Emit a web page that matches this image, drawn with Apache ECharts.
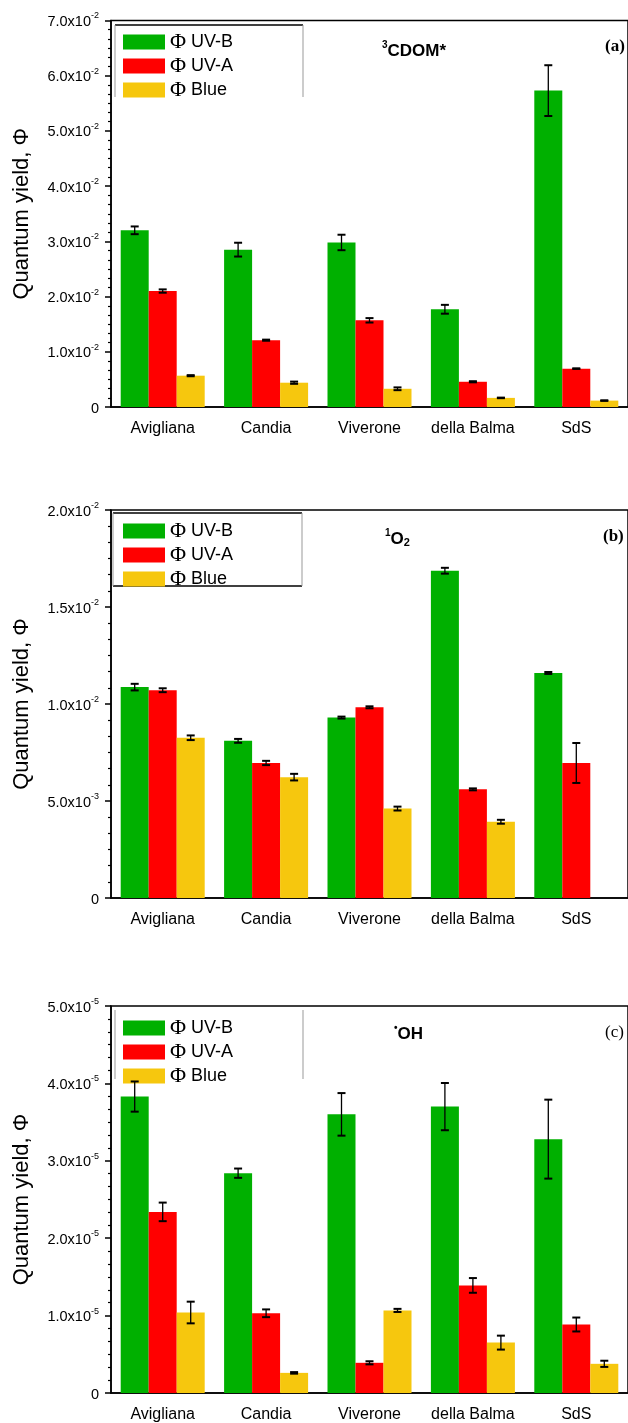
<!DOCTYPE html>
<html>
<head>
<meta charset="utf-8">
<script src="https://cdn.jsdelivr.net/npm/echarts@6/dist/echarts.min.js"></script>
<style>
  html, body { margin: 0; background: #fff; }
  #chart { width: 628px; height: 1423px; }
</style>
</head>
<body>
<div id="chart"></div>
<script>
  // sites on the x axis
  const categories = ['Avigliana', 'Candia', 'Viverone', 'della Balma', 'SdS']
  const seriesNames = ['UV-B', 'UV-A', 'Blue']

  // (a) 3CDOM*
  const cdomUVB = [0.0320, 0.0285, 0.0298, 0.0177, 0.0573]
  const cdomUVBErr = [0.0007, 0.00125, 0.0014, 0.0008, 0.0046]
  const cdomUVA = [0.0210, 0.0121, 0.0157, 0.00457, 0.00695]
  const cdomUVAErr = [0.0003, 0.0001, 0.0004, 0.0001, 0.00005]
  const cdomBlue = [0.00567, 0.0044, 0.0033, 0.00165, 0.00116]
  const cdomBlueErr = [0.0001, 0.0002, 0.00025, 0.00005, 0.00005]

  // (b) 1O2
  const o2UVB = [0.01087, 0.0081, 0.0093, 0.01687, 0.0116]
  const o2UVBErr = [0.00017, 0.0001, 0.00005, 0.00015, 0.00005]
  const o2UVA = [0.01071, 0.00696, 0.00983, 0.0056, 0.00696]
  const o2UVAErr = [0.0001, 0.00011, 0.00005, 0.00005, 0.00103]
  const o2Blue = [0.00826, 0.00623, 0.00461, 0.00393, null]
  const o2BlueErr = [0.00012, 0.00017, 0.0001, 0.0001, null]

  // (c) .OH
  const ohUVB = [3.83e-5, 2.84e-5, 3.60e-5, 3.70e-5, 3.28e-5]
  const ohUVBErr = [0.195e-5, 0.06e-5, 0.275e-5, 0.305e-5, 0.51e-5]
  const ohUVA = [2.34e-5, 1.03e-5, 0.39e-5, 1.39e-5, 0.885e-5]
  const ohUVAErr = [0.12e-5, 0.05e-5, 0.02e-5, 0.095e-5, 0.09e-5]
  const ohBlue = [1.04e-5, 0.26e-5, 1.067e-5, 0.651e-5, 0.377e-5]
  const ohBlueErr = [0.14e-5, 0.01e-5, 0.02e-5, 0.09e-5, 0.04e-5]

  // y tick labels (mantissa^exponent)
  const ticksA = ['0', '1.0x10^-2', '2.0x10^-2', '3.0x10^-2', '4.0x10^-2', '5.0x10^-2', '6.0x10^-2', '7.0x10^-2']
  const ticksB = ['0', '5.0x10^-3', '1.0x10^-2', '1.5x10^-2', '2.0x10^-2']
  const ticksC = ['0', '1.0x10^-5', '2.0x10^-5', '3.0x10^-5', '4.0x10^-5', '5.0x10^-5']

  const colors = ['#00B000', '#FF0000', '#F6C70E']
  const BAR_W = 28
  const FONT = 'Liberation Sans, Arial, sans-serif'

  const panels = [
    { top: 20.5, height: 386.5, max: 0.07, interval: 0.01, ticks: ticksA,
      vals: [cdomUVB, cdomUVA, cdomBlue], errs: [cdomUVBErr, cdomUVAErr, cdomBlueErr] },
    { top: 510, height: 388, max: 0.02, interval: 0.005, ticks: ticksB,
      vals: [o2UVB, o2UVA, o2Blue], errs: [o2UVBErr, o2UVAErr, o2BlueErr] },
    { top: 1006, height: 388, max: 5e-5, interval: 1e-5, ticks: ticksC,
      vals: [ohUVB, ohUVA, ohBlue], errs: [ohUVBErr, ohUVAErr, ohBlueErr] }
  ]

  function tickLabel(ticks, interval) {
    return function (v) {
      const t = ticks[Math.round(v / interval)] || ''
      const p = t.split('^')
      return p.length > 1 ? '{m|' + p[0] + '}{e|' + p[1] + '}' : '{m|' + p[0] + '}'
    }
  }

  function errorSeries(gi, k, vals, errs) {
    const data = []
    vals.forEach(function (v, i) { if (v != null) data.push([i, v, errs[i]]) })
    return {
      type: 'custom',
      name: 'err' + gi + k,
      xAxisIndex: gi,
      yAxisIndex: gi,
      z: 5,
      silent: true,
      data: data,
      renderItem: function (params, api) {
        const i = api.value(0), v = api.value(1), e = api.value(2)
        const hi = api.coord([i, v + e])
        const lo = api.coord([i, v - e])
        const x = hi[0] + (k - 1) * BAR_W
        const cap = 4
        return {
          type: 'group',
          children: [
            { type: 'line', shape: { x1: x, y1: hi[1], x2: x, y2: lo[1] }, style: { stroke: '#000', lineWidth: 1.3 } },
            { type: 'line', shape: { x1: x - cap, y1: hi[1], x2: x + cap, y2: hi[1] }, style: { stroke: '#000', lineWidth: 2 } },
            { type: 'line', shape: { x1: x - cap, y1: lo[1], x2: x + cap, y2: lo[1] }, style: { stroke: '#000', lineWidth: 2 } }
          ]
        }
      }
    }
  }

  const grid = [], xAxis = [], yAxis = [], series = [], legend = []
  const legendTops = [26, 515, 1012]

  panels.forEach(function (p, gi) {
    grid.push({ left: 111, right: -2, top: p.top, height: p.height,
      show: true, borderColor: '#000', borderWidth: 1.5, backgroundColor: 'transparent' })
    xAxis.push({
      type: 'category', gridIndex: gi, data: categories,
      axisLine: { lineStyle: { color: '#000', width: 1.5 } },
      axisTick: { alignWithLabel: true, length: 8, lineStyle: { color: '#000', width: 1.5 } },
      axisLabel: { interval: 0, color: '#000', fontSize: 16, fontFamily: FONT, margin: 14 },
      splitLine: { show: false }
    })
    yAxis.push({
      type: 'value', gridIndex: gi, min: 0, max: p.max, interval: p.interval,
      name: 'Quantum yield, Φ', nameLocation: 'middle', nameGap: 78,
      nameTextStyle: { color: '#000', fontSize: 22, fontFamily: FONT },
      axisLine: { show: true, lineStyle: { color: '#000', width: 1.5 } },
      axisTick: { show: true, length: 6, lineStyle: { color: '#000', width: 1.5 } },
      minorTick: { show: true, splitNumber: 6, length: 3, lineStyle: { color: '#000', width: 1.2 } },
      splitLine: { show: false },
      axisLabel: {
        margin: 12,
        formatter: tickLabel(p.ticks, p.interval),
        rich: {
          m: { fontSize: 14.5, fontFamily: FONT, color: '#000', lineHeight: 18, verticalAlign: 'bottom' },
          e: { fontSize: 9, fontFamily: FONT, color: '#000', lineHeight: 8, verticalAlign: 'top' }
        }
      }
    })
    p.vals.forEach(function (vals, k) {
      series.push({
        type: 'bar', name: seriesNames[k], xAxisIndex: gi, yAxisIndex: gi,
        data: vals, barWidth: BAR_W, barGap: '0%',
        itemStyle: { color: colors[k] },
        emphasis: { disabled: true }
      })
    })
    p.vals.forEach(function (vals, k) {
      series.push(errorSeries(gi, k, vals, p.errs[k]))
    })
    legend.push({
      data: seriesNames, orient: 'vertical', left: 118, top: legendTops[gi],
      itemWidth: 42, itemHeight: 15, itemGap: 2, icon: 'rect',
      formatter: function (n) { return '{p|Φ}{t| ' + n + '}' },
      textStyle: {
        rich: {
          p: { fontSize: 22, fontFamily: 'Liberation Serif, serif', color: '#000', lineHeight: 21 },
          t: { fontSize: 18, fontFamily: FONT, color: '#000', lineHeight: 21 }
        }
      }
    })
  })

  const subStyle = {
    m: { fontSize: 17, fontWeight: 'bold', fontFamily: FONT, color: '#000', lineHeight: 20, verticalAlign: 'bottom' },
    s: { fontSize: 10, fontWeight: 'bold', fontFamily: FONT, color: '#000', lineHeight: 9, verticalAlign: 'top' },
    b: { fontSize: 11, fontWeight: 'bold', fontFamily: FONT, color: '#000', lineHeight: 9, verticalAlign: 'bottom' }
  }
  const tagStyle = { fontSize: 17, fontWeight: 'bold', fontFamily: 'Liberation Serif, serif', color: '#000' }

  const title = [
    { text: '{s|3}{m|CDOM*}', left: 377, top: 35, textStyle: { rich: subStyle } },
    { text: '{s|1}{m|O}{b|2}', left: 380, top: 523, textStyle: { rich: subStyle } },
    { text: '{s|•}{m|OH}', left: 389, top: 1018, textStyle: { rich: subStyle } },
    { text: '(a)', left: 600, top: 33, textStyle: tagStyle },
    { text: '(b)', left: 598, top: 523, textStyle: tagStyle },
    { text: '(c)', left: 600, top: 1019, textStyle: Object.assign({}, tagStyle, { fontWeight: 'normal' }) }
  ]

  // legend frames
  const gray = { stroke: '#999', lineWidth: 1 }
  const dark = { stroke: '#000', lineWidth: 1.5 }
  const graphic = [
    { type: 'line', shape: { x1: 115, y1: 25, x2: 303, y2: 25 }, style: dark },
    { type: 'line', shape: { x1: 115, y1: 25, x2: 115, y2: 97 }, style: gray },
    { type: 'line', shape: { x1: 303, y1: 25, x2: 303, y2: 97 }, style: gray },
    { type: 'line', shape: { x1: 113, y1: 513, x2: 302, y2: 513 }, style: dark },
    { type: 'line', shape: { x1: 113, y1: 586, x2: 302, y2: 586 }, style: dark },
    { type: 'line', shape: { x1: 113, y1: 513, x2: 113, y2: 586 }, style: gray },
    { type: 'line', shape: { x1: 302, y1: 513, x2: 302, y2: 586 }, style: gray },
    { type: 'line', shape: { x1: 115, y1: 1010, x2: 115, y2: 1079 }, style: gray },
    { type: 'line', shape: { x1: 303, y1: 1010, x2: 303, y2: 1079 }, style: gray }
  ]

  const chart = echarts.init(document.getElementById('chart'))
  chart.setOption({
    backgroundColor: '#fff',
    animation: false,
    title: title,
    legend: legend,
    grid: grid,
    xAxis: xAxis,
    yAxis: yAxis,
    series: series,
    graphic: graphic
  })
</script>
</body>
</html>
